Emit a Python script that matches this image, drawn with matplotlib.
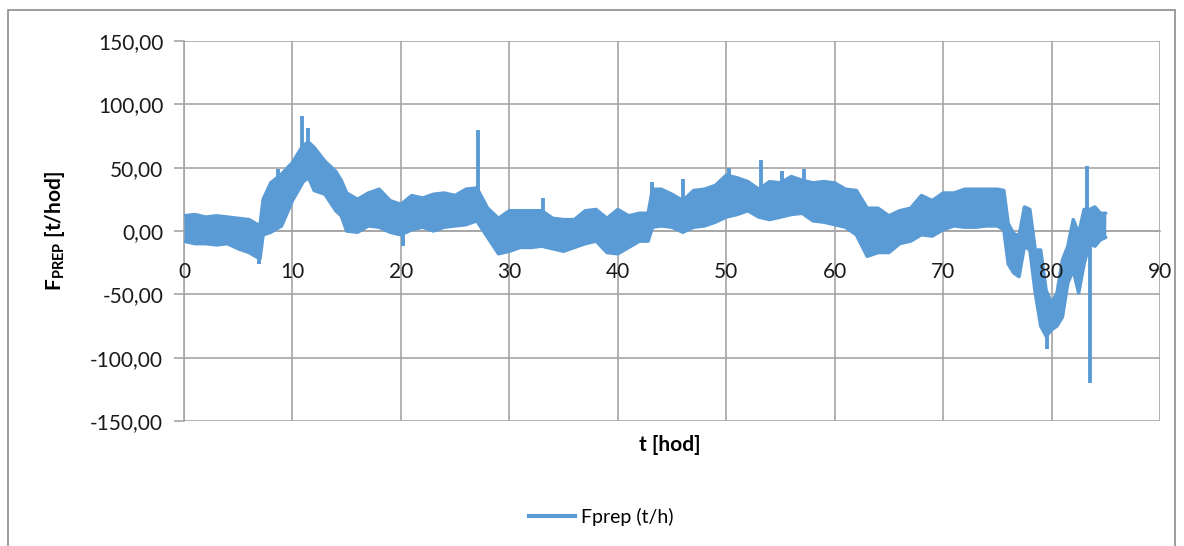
import matplotlib
matplotlib.use("Agg")
import matplotlib.pyplot as plt
from matplotlib.lines import Line2D
from matplotlib.patches import Rectangle
import numpy as np

plt.rcParams['font.family'] = ['Lato', 'DejaVu Sans']
plt.rcParams['mathtext.fontset'] = 'custom'
plt.rcParams['mathtext.bf'] = 'Lato:bold'
plt.rcParams['mathtext.rm'] = 'Lato'

# envelope of the noisy series (t [hod], high, low)
t_hod = [0, 1, 2, 3, 4, 5, 6, 7, 7.3, 8, 9, 10, 11, 11.5, 12, 13, 14, 14.5, 15,
         16, 17, 18, 19, 20, 21, 22, 23, 24, 25, 26, 27, 28, 29, 30, 31, 32, 33,
         34, 35, 36, 37, 38, 39, 40, 41, 42, 42.8, 43.2, 44, 45, 46, 47, 48, 49,
         50, 51, 52, 53, 54, 55, 56, 57, 58, 59, 60, 61, 62, 63, 64, 65, 66, 67,
         68, 69, 70, 71, 72, 73, 74, 75, 75.6, 76.0, 76.5, 77.0, 77.5, 78.0,
         78.5, 79.0, 79.5, 80.0, 80.5, 81.0, 81.5, 82.0, 82.5, 83.0, 83.5, 84.0,
         84.5, 85.0]
f_high = [12, 13, 11, 12, 11, 10, 9, 4, 25, 38, 45, 54, 68, 70, 66, 55, 47, 40, 30,
          25, 30, 33, 24, 21, 28, 26, 29, 30, 28, 33, 34, 18, 10, 16, 16, 16, 16,
          10, 9, 9, 16, 17, 10, 17, 12, 14, 14, 33, 33, 29, 24, 32, 33, 36,
          44, 42, 39, 33, 39, 38, 43, 40, 38, 39, 38, 33, 32, 18, 18, 12, 16, 18,
          28, 24, 30, 30, 33, 33, 33, 33, 32, 6, -2, -4, 19, 17,
          -15, -15, -47, -57, -49, -23, -12, 9, -2, 17, 17, 19,
          14, 14]
f_low = [-8, -10, -10, -11, -10, -14, -17, -22, -3, -1, 4, 24, 39, 42, 32, 29, 16, 12, 0,
         -1, 4, 3, -1, -3, 1, 3, 0, 3, 4, 5, 8, -5, -18, -16, -13, -13, -12,
         -14, -16, -13, -10, -8, -17, -18, -13, -8, -8, 3, 4, 3, -1, 3, 4, 7,
         11, 13, 16, 11, 9, 11, 13, 14, 8, 7, 5, 3, -3, -20, -17, -17, -10, -8,
         -3, -4, 1, 4, 3, 3, 4, 4, 1, -26, -33, -36, -12, -15,
         -49, -75, -83, -78, -75, -68, -41, -31, -49, -26, -10, -12,
         -7, -5]

# isolated spikes (t [hod], value)
spike_t = [6.9, 8.7, 10.9, 11.4, 20.2, 27.1, 33.1, 43.2, 46.0, 50.3, 53.2, 55.1, 57.2, 79.6, 83.25, 83.5]
spike_v = [-26, 49, 91, 81, -12, 80, 26, 39, 41, 50, 56, 47, 49, -93, 51, -120]

x_ticks = [0, 10, 20, 30, 40, 50, 60, 70, 80, 90]
y_ticks = [-150, -100, -50, 0, 50, 100, 150]

color = '#5B9BD5'
grid_c = '#A6A6A6'

fig = plt.figure(figsize=(11.84, 5.46), dpi=100)
ax = fig.add_axes([184/1184, 1-421/546, (1160-184)/1184, (421-41)/546])

ax.fill_between(t_hod, f_low, f_high, color=color, lw=0, zorder=3)
ax.plot(t_hod, f_high, color=color, lw=2.5, zorder=3, solid_capstyle='round')
ax.plot(t_hod, f_low, color=color, lw=2.5, zorder=3, solid_capstyle='round')
mid = np.interp(spike_t, t_hod, (np.array(f_high) + np.array(f_low)) / 2)
ax.vlines(spike_t, mid, spike_v, color=color, lw=2.8, zorder=3)

ax.set_xlim(0, 90)
ax.set_ylim(-150, 150)
ax.set_xticks(x_ticks)
ax.set_yticks(y_ticks)
ax.set_yticklabels([f"{v:.2f}".replace('.', ',') for v in y_ticks])
ax.set_xticklabels([])
for xv in x_ticks:
    ax.annotate(str(xv), xy=(xv, 0), xytext=(0, -22.5), textcoords='offset points',
                ha='center', va='top', fontsize=15, color='#1a1a1a', zorder=6,
                annotation_clip=False)

ax.grid(True, color=grid_c, lw=1.2, zorder=1)
for s in ['top', 'right']:
    ax.spines[s].set_visible(False)
ax.spines['left'].set_color(grid_c)
ax.spines['left'].set_linewidth(1.2)
ax.spines['bottom'].set_position(('data', 0))
ax.spines['bottom'].set_color(grid_c)
ax.spines['bottom'].set_linewidth(1.2)
ax.tick_params(axis='y', length=7, width=1.2, color=grid_c, labelsize=15, labelcolor='#1a1a1a', pad=8)
ax.tick_params(axis='x', length=0)

fig.text(670/1184, 1-445/546, 't [hod]', ha='center', va='center', fontsize=15, fontweight='bold')
fig.text(55/1184, 1-231/546, r'$\mathbf{F}_{\mathbf{PREP}}$ [t/hod]', ha='center', va='center',
         rotation=90, fontsize=15, fontweight='bold')

handle = Line2D([0], [0], color=color, lw=3)
fig.legend([handle], ['Fprep (t/h)'], loc='center', bbox_to_anchor=(601/1184, 1-517/546),
           frameon=False, fontsize=14, handlelength=2.4, handletextpad=0.3)

fig.add_artist(Rectangle((8/1184, -0.05), (1175-8)/1184, 1-10/546+0.05, transform=fig.transFigure,
                         fill=False, edgecolor='#8c8c8c', lw=1.2, clip_on=False))

fig.savefig('out.png', dpi=100)
